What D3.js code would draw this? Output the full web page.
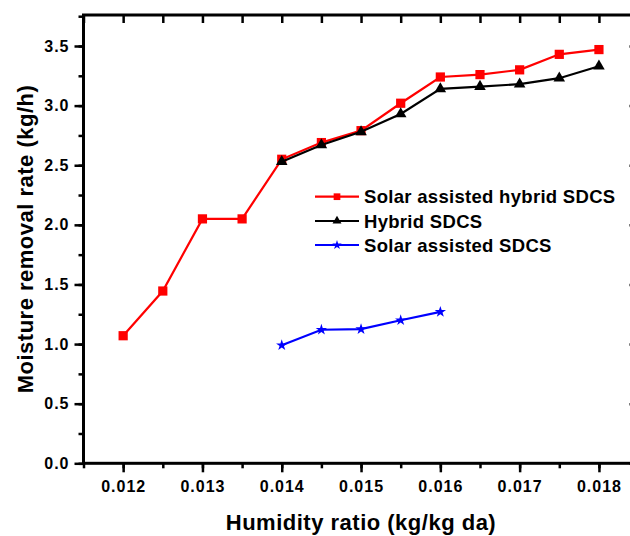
<!DOCTYPE html>
<html>
<head>
<meta charset="utf-8">
<script src="https://cdn.jsdelivr.net/npm/d3@7"></script>
<style>
  html, body { margin: 0; padding: 0; background: #fff; }
  svg { display: block; font-family: "Liberation Sans", Arial, sans-serif; font-weight: bold; }
</style>
</head>
<body>
<svg id="chart" width="630" height="536"></svg>
<script>
// ---- data ----
const xHybridSolar = [0.012, 0.0125, 0.013, 0.0135, 0.014, 0.0145, 0.015, 0.0155, 0.016, 0.0165, 0.017, 0.0175, 0.018];
const yHybridSolar = [1.07, 1.445, 2.05, 2.05, 2.55, 2.69, 2.79, 3.02, 3.24, 3.26, 3.30, 3.43, 3.47];
const xHybrid = [0.014, 0.0145, 0.015, 0.0155, 0.016, 0.0165, 0.017, 0.0175, 0.018];
const yHybrid = [2.53, 2.67, 2.78, 2.93, 3.14, 3.16, 3.18, 3.23, 3.33];
const xSolar = [0.014, 0.0145, 0.015, 0.0155, 0.016];
const ySolar = [0.99, 1.12, 1.125, 1.20, 1.27];
const seriesNames = ["Solar assisted hybrid SDCS", "Hybrid SDCS", "Solar assisted SDCS"];
const xTickValues = [0.012, 0.013, 0.014, 0.015, 0.016, 0.017, 0.018];
const yTickValues = [0.0, 0.5, 1.0, 1.5, 2.0, 2.5, 3.0, 3.5];
const xTitle = "Humidity ratio (kg/kg da)";
const yTitle = "Moisture removal rate (kg/h)";

(function () {
// ---- layout ----
const pLeft = 83.5, pTop = 15, pBottom = 463.3, pRight = 637;
const svg = d3.select("#chart");

const x = d3.scaleLinear().domain([0.0115, 0.01848]).range([pLeft, pRight]);
const y = d3.scaleLinear().domain([0, 3.76]).range([pBottom, pTop]);

const xMinor = d3.range(0.0115, 0.01846, 0.0005).map(v => +v.toFixed(5));
const yMinor = d3.range(0, 3.76, 0.25).map(v => +v.toFixed(2));

// bottom axis
const gx = svg.append("g").attr("transform", `translate(0,${pBottom})`);
gx.call(d3.axisBottom(x).tickValues(xMinor).tickSize(5).tickFormat(""));
gx.selectAll(".domain").remove();
const gx2 = svg.append("g").attr("transform", `translate(0,${pBottom})`);
gx2.call(d3.axisBottom(x).tickValues(xTickValues).tickSize(9).tickPadding(8).tickFormat(d3.format(".3f")));
gx2.selectAll(".domain").remove();

// left axis
const gy = svg.append("g").attr("transform", `translate(${pLeft},0)`);
gy.call(d3.axisLeft(y).tickValues(yMinor).tickSize(5).tickFormat(""));
gy.selectAll(".domain").remove();
const gy2 = svg.append("g").attr("transform", `translate(${pLeft},0)`);
gy2.call(d3.axisLeft(y).tickValues(yTickValues).tickSize(9).tickPadding(5).tickFormat(d3.format(".1f")));
gy2.selectAll(".domain").remove();

// top axis (inward ticks)
const gt = svg.append("g").attr("transform", `translate(0,${pTop})`);
gt.call(d3.axisTop(x).tickValues(xMinor).tickSize(-8).tickFormat(""));
gt.selectAll(".domain").remove();

// right axis (inward ticks)
const gr = svg.append("g").attr("transform", `translate(${pRight},0)`);
gr.call(d3.axisRight(y).tickValues(yTickValues).tickSize(-8).tickFormat(""));
gr.selectAll(".domain").remove();
gr.selectAll(".tick line").attr("stroke-opacity", 0.5);

svg.selectAll(".tick line").attr("stroke", "#000").attr("stroke-width", 2.5);
svg.selectAll(".tick text").attr("fill", "#000").style("font-size", "16px").style("font-weight", "bold")
   .style("letter-spacing", "1px").style("font-family", "'Liberation Sans', Arial, sans-serif");

// frame
svg.append("rect").attr("x", pLeft).attr("y", pTop).attr("width", pRight - pLeft).attr("height", pBottom - pTop)
  .attr("fill", "none").attr("stroke", "#000").attr("stroke-width", 3);

// series
const series = [
  { name: seriesNames[0], xs: xHybridSolar, ys: yHybridSolar, color: "#ff0000", sym: d3.symbolSquare, size: 85, lsize: 45 },
  { name: seriesNames[1], xs: xHybrid, ys: yHybrid, color: "#000000", sym: d3.symbolTriangle, size: 58, lsize: 35 },
  { name: seriesNames[2], xs: xSolar, ys: ySolar, color: "#0000ff", sym: d3.symbolStar, size: 40, lsize: 28 }
];

const line = d3.line().x(d => x(d[0])).y(d => y(d[1]));
const order = [0, 2, 1];
order.forEach(i => {
  const s = series[i];
  const pts = s.xs.map((v, k) => [v, s.ys[k]]);
  svg.append("path").datum(pts).attr("d", line).attr("fill", "none")
    .attr("stroke", s.color).attr("stroke-width", 2.2);
  svg.append("g").selectAll("path").data(pts).join("path")
    .attr("transform", d => `translate(${x(d[0])},${y(d[1])})`)
    .attr("d", d3.symbol().type(s.sym).size(s.size))
    .attr("fill", s.color);
});

// legend
const legX = 315, legY = [196.7, 221, 245];
series.forEach((s, i) => {
  const g = svg.append("g").attr("transform", `translate(${legX},${legY[i]})`);
  g.append("line").attr("x1", 0).attr("x2", 44).attr("y1", 0).attr("y2", 0)
    .attr("stroke", s.color).attr("stroke-width", 2.2);
  g.append("path").attr("transform", "translate(22,0)")
    .attr("d", d3.symbol().type(s.sym).size(s.lsize)).attr("fill", s.color);
  g.append("text").attr("x", 49).attr("y", 0).attr("dy", "0.36em")
    .style("font-size", "18.5px").style("letter-spacing", "0.3px").attr("fill", "#000").text(s.name);
});

// titles
svg.append("text").attr("x", 361).attr("y", 530).attr("text-anchor", "middle")
  .style("font-size", "22px").style("letter-spacing", "0.5px").text(xTitle);
svg.append("text").attr("transform", "translate(33,239) rotate(-90)").attr("text-anchor", "middle")
  .style("font-size", "22px").style("letter-spacing", "0.5px").text(yTitle);
})();
</script>
</body>
</html>
